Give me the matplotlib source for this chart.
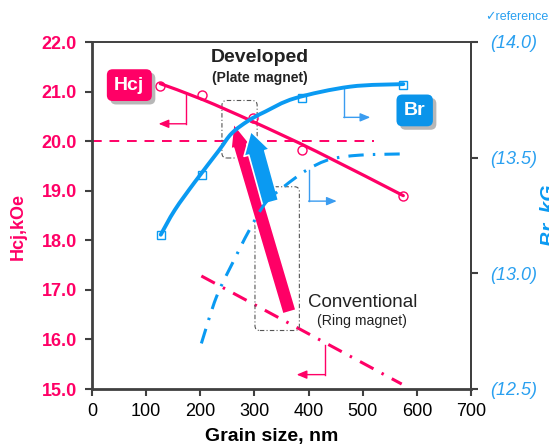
import matplotlib
matplotlib.use("Agg")
import matplotlib.pyplot as plt
from matplotlib.patches import FancyBboxPatch, FancyArrowPatch, PathPatch
from matplotlib.path import Path
import matplotlib.patheffects as pe
import numpy as np

plt.rcParams['font.family'] = ['Liberation Sans', 'DejaVu Sans']

PINK = '#ff0066'
BLUE = '#0a9af2'
BLUE_LIGHT = '#2aa0f0'
GREY = '#404040'

# ---- data ----
# Developed (plate magnet) - Hcj markers [kOe]
hcj_dev_x = [126, 204, 297, 388, 574]
hcj_dev_y = [21.12, 20.93, 20.47, 19.82, 18.90]
# Developed Hcj trend curve
hcj_curve_x = [126, 204, 298, 415, 575]
hcj_curve_y = [21.16, 20.84, 20.39, 19.79, 18.90]
# Developed Br markers [kG]
br_dev_x = [127, 204, 388, 574]
br_dev_y = [13.167, 13.425, 13.757, 13.814]
# Developed Br trend curve
br_curve_x = [127, 153, 190, 234, 258, 289, 320, 375, 477, 575]
br_curve_y = [13.167, 13.274, 13.395, 13.530, 13.605, 13.660, 13.699, 13.757, 13.807, 13.818]
# Conventional (ring magnet) Br curve
br_conv_x = [202, 230, 264, 289, 320, 354, 397, 440, 495, 569]
br_conv_y = [12.697, 12.899, 13.065, 13.18, 13.303, 13.374, 13.447, 13.493, 13.511, 13.516]
# Conventional Hcj line
hcj_conv_x = [202, 572]
hcj_conv_y = [17.28, 15.10]
# Hcj reference level
hcj_ref_x = [0, 520]
hcj_ref_y = [20.0, 20.0]

x_ticks = [0, 100, 200, 300, 400, 500, 600, 700]
hcj_ticks = [15.0, 16.0, 17.0, 18.0, 19.0, 20.0, 21.0, 22.0]
br_ticks = [12.5, 13.0, 13.5, 14.0]

fig = plt.figure(figsize=(5.49, 4.46), dpi=100)
ax = fig.add_axes([92/549, 1-389/446, (471-92)/549, (389-42)/446])
ax2 = ax.twinx()

ax.set_xlim(0, 700)
ax.set_ylim(15.0, 22.0)
ax2.set_ylim(12.5, 14.0)


def smooth_curve(axis, xs, ys, **kw):
    """Draw a smooth curve through the read points (Catmull-Rom rendered as Bezier path)."""
    pts = np.column_stack([xs, ys]).astype(float)
    verts = [pts[0]]
    codes = [Path.MOVETO]
    n = len(pts)
    for i in range(n - 1):
        p0 = pts[i - 1] if i > 0 else pts[i]
        p1 = pts[i]
        p2 = pts[i + 1]
        p3 = pts[i + 2] if i + 2 < n else pts[i + 1]
        c1 = p1 + (p2 - p0) / 6.0
        c2 = p2 - (p3 - p1) / 6.0
        verts += [c1, c2, p2]
        codes += [Path.CURVE4] * 3
    patch = PathPatch(Path(verts, codes), fill=False, **kw)
    axis.add_patch(patch)
    return patch


DASHDOT = (0, (5, 3, 0.8, 3))

# lines
ax.plot(hcj_ref_x, hcj_ref_y, color=PINK, lw=1.4, ls=(0, (5, 4)), zorder=2)
ax.plot(hcj_conv_x, hcj_conv_y, color=PINK, lw=2.2, ls=DASHDOT, zorder=2)
smooth_curve(ax, hcj_curve_x, hcj_curve_y, ec=PINK, lw=2.3, capstyle='round', zorder=3)
ax.plot(hcj_dev_x, hcj_dev_y, ls='none', marker='o', ms=6.5, mfc='none', mec=PINK, mew=1.0, zorder=4)

smooth_curve(ax2, br_conv_x, br_conv_y, ec=BLUE, lw=2.2, ls=DASHDOT, zorder=2)
smooth_curve(ax2, br_curve_x, br_curve_y, ec=BLUE, lw=2.8, capstyle='round', zorder=3)
ax2.plot(br_dev_x, br_dev_y, ls='none', marker='s', ms=6, mfc='none', mec=BLUE, mew=1.0, zorder=4)

# axes styling
ax.set_xticks(x_ticks)
ax.set_xticklabels([str(v) for v in x_ticks], fontsize=13)
ax.set_yticks(hcj_ticks)
ax.set_yticklabels([f"{v:.1f}" for v in hcj_ticks], fontsize=13, fontweight='bold', color=PINK)
ax2.set_yticks(br_ticks)
ax2.set_yticklabels([f"({v:.1f})" for v in br_ticks], fontsize=13, style='italic', color=BLUE_LIGHT)
ax.tick_params(axis='x', direction='out', length=5, width=1.5, color=GREY, pad=5)
ax.tick_params(axis='y', direction='out', length=5, width=1.5, color=GREY, pad=6)
ax2.tick_params(axis='y', direction='out', length=5, width=1.5, color=GREY, pad=9)
for s in ['left', 'bottom']:
    ax.spines[s].set_color(GREY)
    ax.spines[s].set_linewidth(2.0)
for s in ['top', 'right']:
    ax.spines[s].set_color(GREY)
    ax.spines[s].set_linewidth(1.4)
for s in ['left', 'bottom', 'top']:
    ax2.spines[s].set_visible(False)
ax2.spines['right'].set_color(GREY)
ax2.spines['right'].set_linewidth(1.4)

ax.set_xlabel('Grain size, nm', fontsize=14, fontweight='bold')
ax.xaxis.set_label_coords((272-92)/379, -(428-389)/347)
fig.text(18.5/549, 1-226/446, 'Hcj,kOe', rotation=90, ha='center', va='center',
         fontsize=13, fontweight='bold', color=PINK)
fig.text(550/549, 1-215/446, 'Br, kG', rotation=90, ha='center', va='center',
         fontsize=15, fontweight='bold', style='italic', color=BLUE)
fig.text(0.998, 1-17/446, '\u2713reference', ha='right', va='center', fontsize=9, color=BLUE_LIGHT)

# grey dash-dot boxes
asp = (7.0/347)/(700/379)
for (x0, x1, y0, y1) in [(240, 305, 19.66, 20.82), (301, 383, 16.18, 19.08)]:
    box = FancyBboxPatch((x0, y0), x1-x0, y1-y0, boxstyle='round,pad=0,rounding_size=9',
                         mutation_aspect=asp, fc='none', ec='#555555', lw=0.8, ls=(0, (4, 2, 1, 2)), zorder=2.5)
    ax.add_patch(box)

# big arrows
pink_arrow = FancyArrowPatch((366, 16.50), (260, 20.41),
                             arrowstyle='simple,head_width=1.4,head_length=1.7,tail_width=1.0',
                             mutation_scale=10, fc=PINK, ec='white', lw=1.2, zorder=5)
ax.add_patch(pink_arrow)
blue_arrow = FancyArrowPatch((331, 18.71), (292, 20.25),
                             arrowstyle='simple,head_width=1.9,head_length=1.6,tail_width=1.2',
                             mutation_scale=10, fc=BLUE, ec='white', lw=1.2, zorder=6)
ax.add_patch(blue_arrow)


# bracket pointers
def bracket(x_top, y_top, y_corner, x_tip, color, axis):
    axis.plot([x_top, x_top], [y_top, y_corner], color=color, lw=1.0, zorder=3)
    axis.annotate('', xy=(x_tip, y_corner), xytext=(x_top, y_corner),
                  arrowprops=dict(arrowstyle='-|>,head_width=0.25,head_length=0.6', color=color, lw=1.0,
                                  shrinkA=0, shrinkB=0), zorder=3)


bracket(174, 20.93, 20.35, 123, PINK, ax)
bracket(465, 21.07, 20.48, 514, '#3a9cf0', ax)
bracket(400, 19.42, 18.79, 452, '#3a9cf0', ax)
bracket(431, 15.89, 15.29, 378, PINK, ax)

# labels
ax.text(310, 21.68, 'Developed', ha='center', va='center', fontsize=14, fontweight='bold', color='#222222')
ax.text(310, 21.27, '(Plate magnet)', ha='center', va='center', fontsize=10, fontweight='bold', color='#222222')
ax.text(500, 16.75, 'Conventional', ha='center', va='center', fontsize=13.5, color='#222222')
ax.text(499, 16.38, '(Ring magnet)', ha='center', va='center', fontsize=10.2, color='#222222')


# tag boxes with drop shadow
def tag(x, y, s, color):
    t = ax.text(x, y, s, ha='center', va='center', fontsize=14, fontweight='bold', color='white',
                bbox=dict(boxstyle='round,pad=0.38,rounding_size=0.3', fc=color, ec='none'), zorder=7)
    t.get_bbox_patch().set_path_effects([pe.SimplePatchShadow(offset=(2.5, -2.5), shadow_rgbFace='#888888',
                                                              alpha=0.6), pe.Normal()])


tag(69, 21.13, 'Hcj', PINK)
tag(596, 20.62, 'Br', '#0a94ea')

fig.savefig('out.png', dpi=100)
